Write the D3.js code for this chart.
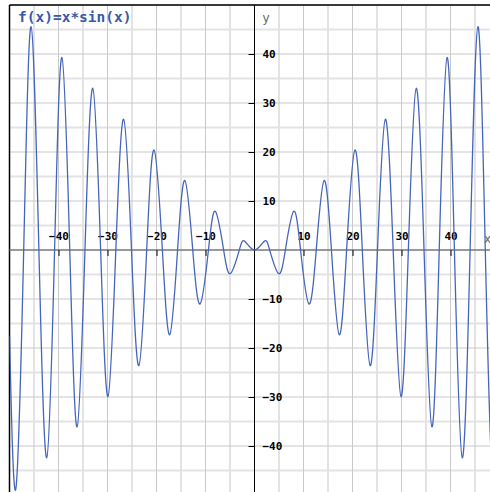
<!DOCTYPE html>
<html lang="en">
<head>
<meta charset="UTF-8">
<title>f(x)=x*sin(x)</title>
<style>
  body { margin: 0; background: #fff; }
  svg { display: block; }
  .tick text { font-family: "DejaVu Sans Mono", monospace; font-size: 11px; font-weight: bold; fill: #000; }
  .tick line { stroke: #000; }
</style>
</head>
<body>
<svg id="main" width="490" height="492"></svg>
<script src="https://cdn.jsdelivr.net/npm/d3@7"></script>
<script>
// knots: extrema and zero crossings of the curve
var curveX = [-50, -48.7, -47.1, -45.6, -44.0, -42.4, -40.8, -39.3, -37.7, -36.2, -34.6, -33.0, -31.4,
  -29.9, -28.3, -26.7, -25.1, -23.6, -22.0, -20.5, -18.8, -17.3, -15.7, -14.2, -12.6, -11.1, -9.4,
  -8.0, -6.3, -4.9, -3.1, -2.0, 0, 2.0, 3.1, 4.9, 6.3, 8.0, 9.4, 11.1, 12.6, 14.2, 15.7, 17.3, 18.8,
  20.5, 22.0, 23.6, 25.1, 26.7, 28.3, 29.9, 31.4, 33.0, 34.6, 36.2, 37.7, 39.3, 40.8, 42.4, 44.0,
  45.6, 47.1, 48.7, 50];
var curveY = [-17.5, -48.7, 0, 45.6, 0, -42.4, 0, 39.3, 0, -36.1, 0, 33.0, 0,
  -29.9, 0, 26.7, 0, -23.6, 0, 20.4, 0, -17.3, 0, 14.2, 0, -11.0, 0,
  7.9, 0, -4.8, 0, 1.8, 0, 1.8, 0, -4.8, 0, 7.9, 0, -11.0, 0, 14.2, 0, -17.3, 0,
  20.4, 0, -23.6, 0, 26.7, 0, -29.9, 0, 33.0, 0, -36.1, 0, 39.3, 0, -42.4, 0,
  45.6, 0, -48.7, -17.5];

var xTicks = [-40, -30, -20, -10, 10, 20, 30, 40];
var yTicks = [-40, -30, -20, -10, 10, 20, 30, 40];
var majorGrid = [-40, -30, -20, -10, 10, 20, 30, 40, 50];
var minorGrid = [-45, -35, -25, -15, -5, 5, 15, 25, 35, 45];
var title = "f(x)=x*sin(x)";

var svg = d3.select("#main");
var x = d3.scaleLinear().domain([-50, 50]).range([9.5, 499.5]);
var y = d3.scaleLinear().domain([-50, 50]).range([495, 5]);

// grid
var grid = svg.append("g");
grid.selectAll(".gmx").data(minorGrid).enter().append("line")
  .attr("x1", d => x(d)).attr("x2", d => x(d)).attr("y1", y(50)).attr("y2", y(-50))
  .attr("stroke", "#e3e3e3").attr("stroke-width", 2);
grid.selectAll(".gmy").data(minorGrid).enter().append("line")
  .attr("y1", d => y(d)).attr("y2", d => y(d)).attr("x1", x(-50)).attr("x2", x(50))
  .attr("stroke", "#e3e3e3").attr("stroke-width", 2);
grid.selectAll(".gMx").data(majorGrid).enter().append("line")
  .attr("x1", d => x(d)).attr("x2", d => x(d)).attr("y1", y(50)).attr("y2", y(-50))
  .attr("stroke", "#c9c9c9").attr("stroke-width", 1);
grid.selectAll(".gMy").data(majorGrid).enter().append("line")
  .attr("y1", d => y(d)).attr("y2", d => y(d)).attr("x1", x(-50)).attr("x2", x(50))
  .attr("stroke", "#c9c9c9").attr("stroke-width", 1);

// frame (top and left visible)
svg.append("line").attr("x1", x(-50)).attr("x2", x(50)).attr("y1", y(50)).attr("y2", y(50))
  .attr("stroke", "#000").attr("stroke-width", 1.5);
svg.append("line").attr("x1", x(-50)).attr("x2", x(-50)).attr("y1", y(50)).attr("y2", y(-50))
  .attr("stroke", "#000").attr("stroke-width", 1.5);

// axes lines
svg.append("line").attr("x1", x(-50)).attr("x2", x(50)).attr("y1", y(0)).attr("y2", y(0))
  .attr("stroke", "#777").attr("stroke-width", 1.5);
svg.append("line").attr("x1", x(0)).attr("x2", x(0)).attr("y1", y(50)).attr("y2", y(-50))
  .attr("stroke", "#000").attr("stroke-width", 1);

// x axis: ticks down, labels above
var gx = svg.append("g").attr("transform", "translate(0," + y(0) + ")")
  .call(d3.axisBottom(x).tickValues(xTicks).tickSize(6).tickFormat(d3.format("d")));
gx.select(".domain").remove();
gx.selectAll(".tick text").attr("y", -10).attr("dy", 0);

// y axis: ticks left, labels right
var gy = svg.append("g").attr("transform", "translate(" + x(0) + ",0)")
  .call(d3.axisLeft(y).tickValues(yTicks).tickSize(6).tickFormat(d3.format("d")));
gy.select(".domain").remove();
gy.selectAll(".tick text").attr("x", 8).attr("text-anchor", "start");

// curve
svg.append("clipPath").attr("id", "clip").append("rect")
  .attr("x", x(-50)).attr("y", y(50)).attr("width", x(50) - x(-50)).attr("height", y(-50) - y(50));
var line = d3.line().x((d, i) => x(curveX[i])).y(d => y(d)).curve(d3.curveNatural);
svg.append("path").attr("clip-path", "url(#clip)")
  .attr("d", line(curveY))
  .attr("fill", "none").attr("stroke", "#4565bb").attr("stroke-width", 1.3);

// labels
svg.append("text").attr("x", 18).attr("y", 22).text(title)
  .attr("font-family", "DejaVu Sans Mono, monospace").attr("font-size", 14.5)
  .attr("font-weight", "bold").attr("fill", "#3a58aa");
svg.append("text").attr("x", x(0) + 8).attr("y", 22).text("y")
  .attr("font-family", "DejaVu Sans, sans-serif").attr("font-size", 12).attr("fill", "#666");
svg.append("text").attr("x", 484).attr("y", 243).text("x")
  .attr("font-family", "DejaVu Sans, sans-serif").attr("font-size", 12).attr("fill", "#666");
</script>
</body>
</html>
